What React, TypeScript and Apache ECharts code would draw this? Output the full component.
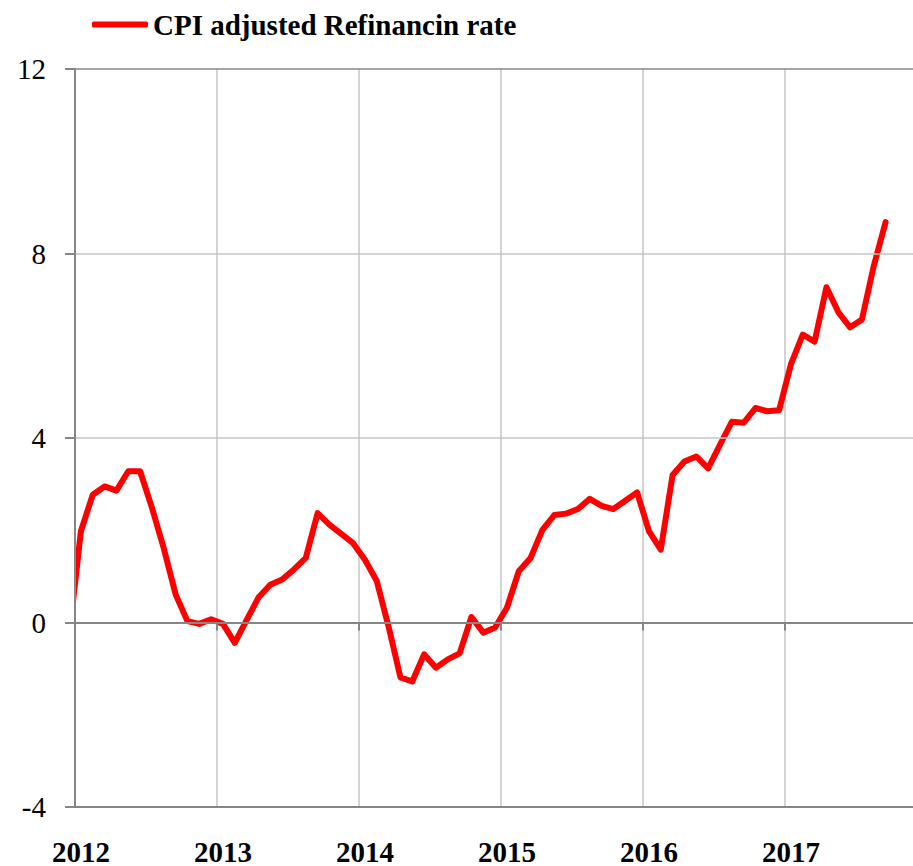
import React, { useEffect, useRef } from 'react';
import * as echarts from 'echarts';

const seriesName = 'CPI adjusted Refinancin rate';
// Monthly values, first entry = Dec 2011 (clipped at the axis), then Jan 2012 .. Sep 2017
const rateValues = [
  -0.3,
  1.98, 2.77, 2.95, 2.86, 3.28, 3.28, 2.49, 1.61, 0.61, 0.03, -0.03, 0.07,
  -0.03, -0.44, 0.05, 0.54, 0.82, 0.93, 1.15, 1.40, 2.37, 2.12, 1.92, 1.72,
  1.36, 0.90, -0.09, -1.19, -1.28, -0.69, -0.98, -0.80, -0.67, 0.12, -0.22, -0.11,
  0.32, 1.11, 1.40, 2.01, 2.33, 2.36, 2.46, 2.68, 2.53, 2.46, 2.64, 2.82,
  1.98, 1.58, 3.20, 3.49, 3.60, 3.34, 3.85, 4.35, 4.33, 4.65, 4.58, 4.60,
  5.60, 6.24, 6.09, 7.27, 6.73, 6.40, 6.57, 7.73, 8.68,
];
const yearLabels = ['2012', '2013', '2014', '2015', '2016', '2017'];
const yMin = -4;
const yMax = 12;
const yStep = 4;

const FONT = '"Liberation Serif", "Times New Roman", serif';
const DARK = '#868686';
const LIGHT = '#c4c4c4';

export default function App() {
  const ref = useRef<HTMLDivElement>(null);
  useEffect(() => {
    const chart = echarts.init(ref.current!, null, { renderer: 'svg' });
    const data = rateValues.map((v, i) => [i - 1, v]);
    const yearFormatter = (v: number) => {
      const k = (v + 0.5) / 12;
      const r = Math.round(k);
      if (Math.abs(k - r) > 1e-6) return '';
      return yearLabels[r] ?? '';
    };
    chart.setOption({
      animation: false,
      backgroundColor: '#ffffff',
      legend: {
        left: 87,
        top: 5,
        icon: 'roundRect',
        itemWidth: 56,
        itemHeight: 6,
        textStyle: { fontFamily: FONT, fontWeight: 'bold', fontSize: 29, color: '#000' },
        data: [seriesName],
      },
      grid: { left: 75, top: 69, width: 840.2, height: 741, containLabel: false },
      // mask the line-width overhang of the clipped line left of the y axis (below the axis ticks)
      graphic: [
        {
          type: 'rect',
          z: 3,
          silent: true,
          shape: { x: 55, y: 560, width: 19, height: 100 },
          style: { fill: '#ffffff' },
        },
      ],
      xAxis: [
        {
          type: 'value',
          min: -0.5,
          max: 70.5,
          interval: 12,
          position: 'bottom',
          axisLine: { show: true, onZero: false, lineStyle: { color: DARK, width: 2 } },
          axisTick: { show: false },
          axisLabel: {
            formatter: yearFormatter,
            fontFamily: FONT,
            fontWeight: 'bold',
            fontSize: 29,
            color: '#000',
            margin: 30,
            padding: [0, 0, 0, 12],
            showMaxLabel: false,
          },
          splitLine: { show: true, lineStyle: { color: LIGHT, width: 1.5 } },
        },
        {
          type: 'value',
          min: -0.5,
          max: 70.5,
          interval: 12,
          position: 'top',
          z: 5,
          axisLine: { show: true, onZero: true, onZeroAxisIndex: 0, lineStyle: { color: DARK, width: 2 } },
          axisTick: { show: true, inside: true, length: 8, lineStyle: { color: DARK, width: 2 } },
          axisLabel: { show: false },
          splitLine: { show: false },
        },
      ],
      yAxis: {
        type: 'value',
        min: yMin,
        max: yMax,
        interval: yStep,
        z: 5,
        axisLine: { show: true, onZero: false, lineStyle: { color: DARK, width: 2 } },
        axisTick: { show: true, length: 10, lineStyle: { color: DARK, width: 2 } },
        axisLabel: { fontFamily: FONT, fontSize: 29, color: '#000', margin: 29 },
        splitLine: {
          show: true,
          lineStyle: { color: [DARK, DARK, LIGHT, LIGHT, DARK], width: 1.5 },
        },
      },
      series: [
        {
          name: seriesName,
          type: 'line',
          data,
          symbol: 'none',
          clip: true,
          z: 2,
          color: '#ff0000',
          lineStyle: { color: '#ff0000', width: 6, join: 'round', cap: 'round' },
        },
      ],
    });
    return () => chart.dispose();
  }, []);
  return (
    <div style={{ position: 'fixed', left: 0, top: 0, width: 913, height: 866, overflow: 'hidden', background: '#fff' }}>
      <div ref={ref} style={{ width: 930, height: 866 }} />
    </div>
  );
}
